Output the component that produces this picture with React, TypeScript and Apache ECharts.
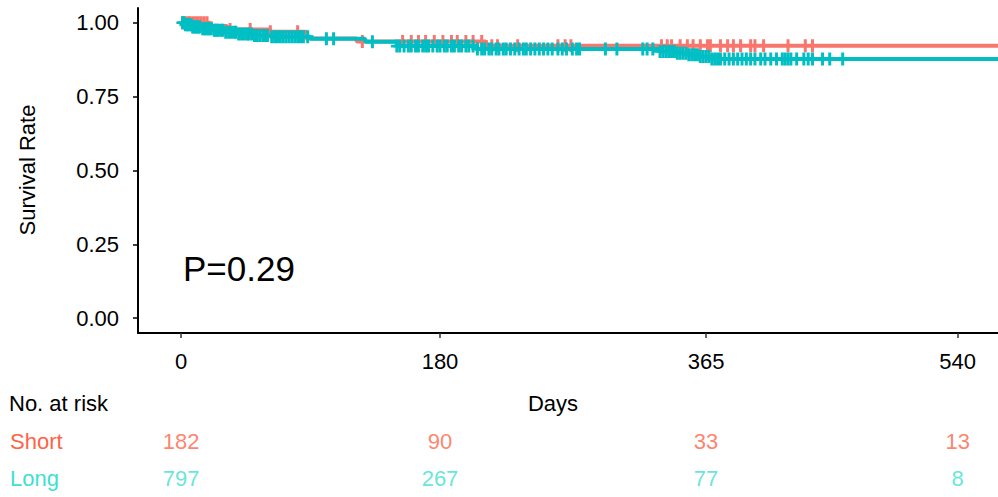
import React, { useEffect, useRef } from "react";
import * as echarts from "echarts";

// ---- data ----
const shortTimes = [0, 20, 32, 62, 87, 122, 212, 568];
const shortSurv = [1.0, 0.989, 0.977, 0.97, 0.947, 0.937, 0.922, 0.922];
const longTimes = [0, 3, 8, 14, 22, 30, 40, 50, 62, 90, 128, 150, 205, 333, 345, 352, 360, 368, 568];
const longSurv = [1.0, 0.993, 0.986, 0.98, 0.975, 0.968, 0.962, 0.957, 0.953, 0.946, 0.936, 0.921, 0.911, 0.903, 0.897, 0.892, 0.886, 0.877, 0.877];

const shortCensor = [1, 3, 5, 6, 8, 10, 12, 14, 16, 18, 34, 48, 62, 81, 126, 154, 160, 165, 170, 176, 182, 188, 192, 198, 203, 209, 216, 220, 234, 262, 267, 271, 334, 338, 341, 347, 352, 356, 361, 366, 368, 375, 380, 384, 389, 396, 399, 405, 422, 434, 439];
const longCensor = [1, 2, 3, 4, 5, 6, 7, 8, 9, 10, 11, 12, 13, 15, 16, 17, 18, 19, 20, 21, 23, 24, 25, 26, 28, 29, 31, 33, 35, 37, 38, 40, 42, 44, 46, 47, 49, 51, 53, 55, 57, 58, 60, 63, 65, 67, 69, 71, 73, 75, 77, 79, 81, 83, 85, 88, 101, 106, 133, 150, 152, 155, 158, 160, 163, 165, 168, 170, 172, 175, 178, 180, 183, 185, 188, 190, 193, 195, 198, 200, 203, 206, 209, 211, 214, 216, 219, 221, 224, 226, 229, 232, 235, 238, 240, 243, 246, 249, 252, 255, 258, 262, 265, 268, 272, 275, 277, 295, 303, 321, 324, 328, 333, 335, 337, 339, 341, 343, 345, 347, 349, 351, 353, 355, 357, 359, 361, 363, 365, 367, 369, 371, 373, 375, 378, 381, 384, 387, 390, 393, 396, 399, 403, 406, 410, 414, 418, 420, 422, 424, 428, 433, 436, 439, 446, 451, 460];

const groupNames = ["Short", "Long"];
const riskTimes = [0, 180, 365, 540];
const riskShort = [182, 90, 33, 13];
const riskLong = [797, 267, 77, 8];

const xTickValues = [0, 180, 365, 540];
const yTickValues = [0, 0.25, 0.5, 0.75, 1];
const pValueText = "P=0.29";

// ---- styles ----
const FONT = "'Liberation Sans', Arial, Helvetica, sans-serif";
const RED = "#F8766D";
const TEAL = "#00BFC4";
const RED_TXT = "#FF6347";
const TEAL_TXT = "#40E0D0";
const X_MIN = -30;
const X_MAX = 568;

function survAt(times: number[], surv: number[], t: number) {
  let v = surv[0];
  for (let i = 0; i < times.length; i++) {
    if (times[i] <= t) v = surv[i];
  }
  return v;
}

const PLUS = "path://M4.5,0H7.5V4.8H12V7.2H7.5V12H4.5V7.2H0V4.8H4.5Z";

export default function App() {
  const ref = useRef<HTMLDivElement>(null);
  useEffect(() => {
    if (!ref.current) return;
    const chart = echarts.init(ref.current, undefined, { renderer: "svg" });
    const option: any = {
      animation: false,
      backgroundColor: "#ffffff",
      textStyle: { fontFamily: FONT },
      grid: [
        { left: 138, right: 0, top: 8, height: 325 },
        { left: 138, right: 0, top: 422.5, height: 78 },
      ],
      xAxis: [
        {
          type: "value",
          gridIndex: 0,
          min: X_MIN,
          max: X_MAX,
          splitLine: { show: false },
          axisLine: { onZero: false, lineStyle: { color: "#000", width: 2 } },
          axisTick: { customValues: xTickValues, length: 5, lineStyle: { color: "#333", width: 1.5 } },
          axisLabel: {
            customValues: xTickValues,
            margin: 17,
            color: "#000",
            fontSize: 22,
            fontFamily: FONT,
          },
        },
        {
          type: "value",
          gridIndex: 1,
          min: X_MIN,
          max: X_MAX,
          show: false,
        },
      ],
      yAxis: [
        {
          type: "value",
          gridIndex: 0,
          min: -0.05,
          max: 1.05,
          splitLine: { show: false },
          axisLine: { show: true, onZero: false, lineStyle: { color: "#000", width: 2 } },
          axisTick: { show: true, customValues: yTickValues, length: 5, lineStyle: { color: "#000", width: 1.5 } },
          axisLabel: {
            customValues: yTickValues,
            formatter: (v: number) => v.toFixed(2),
            margin: 19,
            color: "#000",
            fontSize: 22,
            fontFamily: FONT,
          },
        },
        {
          type: "category",
          gridIndex: 1,
          data: groupNames,
          inverse: true,
          axisLine: { show: false },
          axisTick: { show: false },
          splitLine: { show: false },
          axisLabel: {
            align: "left",
            margin: 128,
            fontSize: 22,
            fontFamily: FONT,
            color: (v: string) => (v === "Short" ? RED_TXT : TEAL_TXT),
          },
        },
      ],
      graphic: [
        {
          type: "text",
          x: 27,
          y: 170,
          rotation: Math.PI / 2,
          style: { text: "Survival Rate", font: `22px ${FONT}`, fill: "#000", align: "center", verticalAlign: "middle" },
        },
        {
          type: "text",
          x: 183,
          y: 268,
          style: { text: pValueText, font: `35px ${FONT}`, fill: "#000", align: "left", verticalAlign: "middle" },
        },
        {
          type: "text",
          x: 9,
          y: 403,
          style: { text: "No. at risk", font: `22px ${FONT}`, fill: "#000", align: "left", verticalAlign: "middle" },
        },
        {
          type: "text",
          x: 553,
          y: 403,
          style: { text: "Days", font: `22px ${FONT}`, fill: "#000", align: "center", verticalAlign: "middle" },
        },
      ],
      series: [
        {
          name: "Short",
          type: "line",
          xAxisIndex: 0,
          yAxisIndex: 0,
          step: "end",
          showSymbol: false,
          data: shortTimes.map((t, i) => [t, shortSurv[i]]),
          lineStyle: { color: RED, width: 4 },
          itemStyle: { color: RED },
          z: 2,
        },
        {
          name: "Short censor",
          type: "scatter",
          xAxisIndex: 0,
          yAxisIndex: 0,
          symbol: PLUS,
          symbolSize: [12, 13],
          data: shortCensor.map((t) => [t, survAt(shortTimes, shortSurv, t)]),
          itemStyle: { color: RED, opacity: 1 },
          z: 3,
        },
        {
          name: "Long",
          type: "line",
          xAxisIndex: 0,
          yAxisIndex: 0,
          step: "end",
          showSymbol: false,
          data: longTimes.map((t, i) => [t, longSurv[i]]),
          lineStyle: { color: TEAL, width: 4 },
          itemStyle: { color: TEAL },
          z: 4,
        },
        {
          name: "Long censor",
          type: "scatter",
          xAxisIndex: 0,
          yAxisIndex: 0,
          symbol: PLUS,
          symbolSize: [12, 13],
          data: longCensor.map((t) => [t, survAt(longTimes, longSurv, t)]),
          itemStyle: { color: TEAL, opacity: 1 },
          z: 5,
        },
        {
          name: "Risk Short",
          type: "scatter",
          xAxisIndex: 1,
          yAxisIndex: 1,
          symbolSize: 0,
          data: riskTimes.map((t, i) => [t, "Short", riskShort[i]]),
          label: {
            show: true,
            position: "inside",
            formatter: (p: any) => String(p.value[2]),
            color: RED_TXT,
            fontSize: 22,
            fontFamily: FONT,
          },
        },
        {
          name: "Risk Long",
          type: "scatter",
          xAxisIndex: 1,
          yAxisIndex: 1,
          symbolSize: 0,
          data: riskTimes.map((t, i) => [t, "Long", riskLong[i]]),
          label: {
            show: true,
            position: "inside",
            formatter: (p: any) => String(p.value[2]),
            color: TEAL_TXT,
            fontSize: 22,
            fontFamily: FONT,
          },
        },
      ],
    };
    chart.setOption(option);
    return () => chart.dispose();
  }, []);
  return (
    <div
      ref={ref}
      style={{ position: "absolute", left: 0, top: 0, width: 998, height: 497, background: "#fff" }}
    />
  );
}
